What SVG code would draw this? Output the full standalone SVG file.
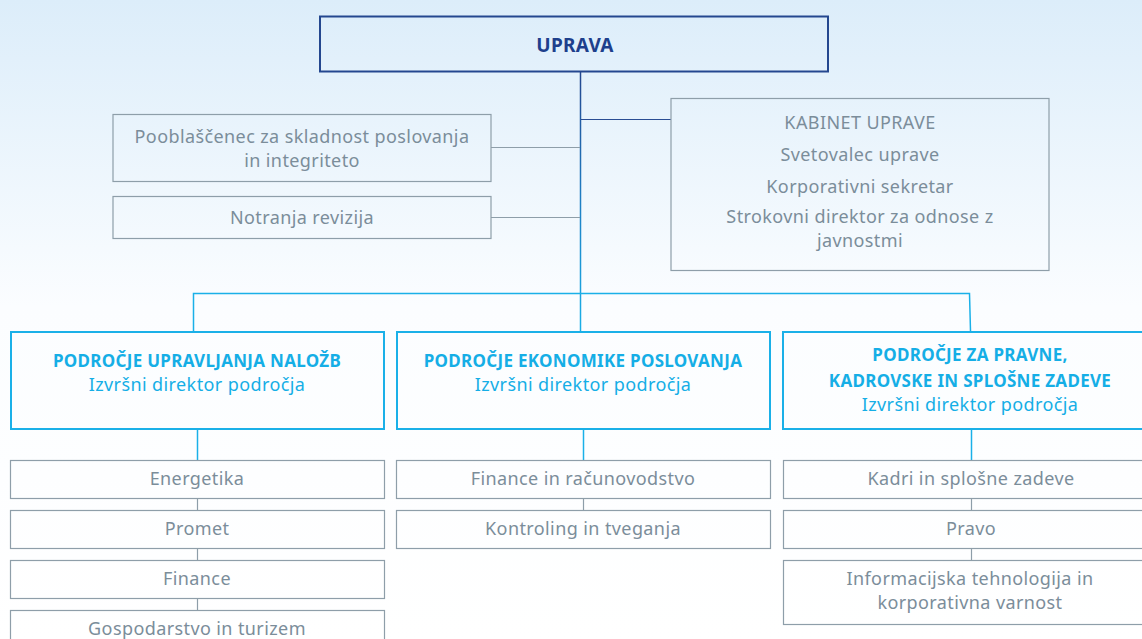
<svg xmlns="http://www.w3.org/2000/svg" width="1142" height="639" viewBox="0 0 1142 639">
<defs>
<linearGradient id="bg" x1="0" y1="0" x2="0" y2="1">
<stop offset="0" stop-color="#dcedfa"/>
<stop offset="0.48" stop-color="#fbfdff"/>
<stop offset="1" stop-color="#ffffff"/>
</linearGradient>
<linearGradient id="trunk" x1="0" y1="72" x2="0" y2="331" gradientUnits="userSpaceOnUse">
<stop offset="0" stop-color="#24478f"/>
<stop offset="0.5" stop-color="#1f7fc4"/>
<stop offset="1" stop-color="#1ab0e8"/>
</linearGradient>
<style>
text{font-family:"Noto Sans","Open Sans",sans-serif;text-anchor:middle}
.g{fill:#7b8d9a;font-size:18px;letter-spacing:0.4px}
.gb{fill:none;stroke:#8e9ea9;stroke-width:1.2}
.bb{fill:none;stroke:#1ab0e8;stroke-width:2}
.bh{fill:#15aee6;font-size:17px;font-weight:bold;letter-spacing:0.3px}
.bs{fill:#15aee6;font-size:18px;letter-spacing:0.4px}
.cg{stroke:#8e9ea9;stroke-width:1.2;fill:none}
.cb{stroke:#1ab0e8;stroke-width:1.5;fill:none}
.cd{stroke:#2a4d93;stroke-width:1.2;fill:none}
</style>
</defs>
<rect x="0" y="0" width="1142" height="639" fill="url(#bg)"/>
<g id="connectors">
<line x1="580.5" y1="72" x2="580.5" y2="331" stroke="url(#trunk)" stroke-width="1.5"/>
<line class="cd" x1="581" y1="119.5" x2="671" y2="119.5"/>
<line class="cg" x1="491" y1="147.5" x2="580" y2="147.5"/>
<line class="cg" x1="491" y1="217.5" x2="580" y2="217.5"/>
<polyline class="cb" points="193.5,331 193.5,293.5 969.5,293.5 970.5,331"/>
<line class="cb" x1="197.5" y1="429" x2="197.5" y2="460"/>
<line class="cb" x1="583.5" y1="429" x2="583.5" y2="460"/>
<line class="cb" x1="971.5" y1="429" x2="971.5" y2="460"/>
<line class="cg" x1="197.5" y1="498" x2="197.5" y2="510"/>
<line class="cg" x1="197.5" y1="548" x2="197.5" y2="560"/>
<line class="cg" x1="197.5" y1="598" x2="197.5" y2="610"/>
<line class="cg" x1="583.5" y1="498" x2="583.5" y2="510"/>
<line class="cg" x1="971.5" y1="498" x2="971.5" y2="510"/>
<line class="cg" x1="971.5" y1="548" x2="971.5" y2="560"/>
</g>
<g id="uprava">
<rect x="320" y="16.5" width="508" height="55" fill="none" stroke="#24478f" stroke-width="2"/>
<text x="575" y="52" fill="#1e3f8c" font-size="19" font-weight="bold" letter-spacing="0.3">UPRAVA</text>
</g>
<g id="pooblascenec">
<rect class="gb" x="113" y="114.5" width="378" height="67"/>
<text class="g" x="302" y="143">Pooblaščenec za skladnost poslovanja</text>
<text class="g" x="302" y="167">in integriteto</text>
</g>
<g id="revizija">
<rect class="gb" x="113" y="196.5" width="378" height="42"/>
<text class="g" x="302" y="224">Notranja revizija</text>
</g>
<g id="kabinet">
<rect class="gb" x="671" y="98.5" width="378" height="172"/>
<text class="g" x="860" y="129">KABINET UPRAVE</text>
<text class="g" x="860" y="161">Svetovalec uprave</text>
<text class="g" x="860" y="193">Korporativni sekretar</text>
<text class="g" x="860" y="223">Strokovni direktor za odnose z</text>
<text class="g" x="860" y="247">javnostmi</text>
</g>
<g id="nalozbe">
<rect class="bb" x="11" y="332" width="373" height="97"/>
<text class="bh" x="197" y="367">PODROČJE UPRAVLJANJA NALOŽB</text>
<text class="bs" x="197" y="391">Izvršni direktor področja</text>
</g>
<g id="ekonomika">
<rect class="bb" x="397" y="332" width="373" height="97"/>
<text class="bh" x="583" y="367">PODROČJE EKONOMIKE POSLOVANJA</text>
<text class="bs" x="583" y="391">Izvršni direktor področja</text>
</g>
<g id="pravne">
<rect class="bb" x="783" y="332" width="370" height="97"/>
<text class="bh" x="970" y="361">PODROČJE ZA PRAVNE,</text>
<text class="bh" x="970" y="387">KADROVSKE IN SPLOŠNE ZADEVE</text>
<text class="bs" x="970" y="411">Izvršni direktor področja</text>
</g>
<g id="energetika">
<rect class="gb" x="10.5" y="460.5" width="374" height="38"/>
<text class="g" x="197" y="485">Energetika</text>
</g>
<g id="promet">
<rect class="gb" x="10.5" y="510.5" width="374" height="38"/>
<text class="g" x="197" y="535">Promet</text>
</g>
<g id="finance1">
<rect class="gb" x="10.5" y="560.5" width="374" height="38"/>
<text class="g" x="197" y="585">Finance</text>
</g>
<g id="gospodarstvo">
<rect class="gb" x="10.5" y="610.5" width="374" height="38"/>
<text class="g" x="197" y="635">Gospodarstvo in turizem</text>
</g>
<g id="financeracun">
<rect class="gb" x="396.5" y="460.5" width="374" height="38"/>
<text class="g" x="583" y="485">Finance in računovodstvo</text>
</g>
<g id="kontroling">
<rect class="gb" x="396.5" y="510.5" width="374" height="38"/>
<text class="g" x="583" y="535">Kontroling in tveganja</text>
</g>
<g id="kadri">
<rect class="gb" x="783.5" y="460.5" width="370" height="38"/>
<text class="g" x="971" y="485">Kadri in splošne zadeve</text>
</g>
<g id="pravo">
<rect class="gb" x="783.5" y="510.5" width="370" height="38"/>
<text class="g" x="971" y="535">Pravo</text>
</g>
<g id="it">
<rect class="gb" x="783.5" y="560.5" width="370" height="64"/>
<text class="g" x="970" y="585">Informacijska tehnologija in</text>
<text class="g" x="970" y="609">korporativna varnost</text>
</g>
</svg>
